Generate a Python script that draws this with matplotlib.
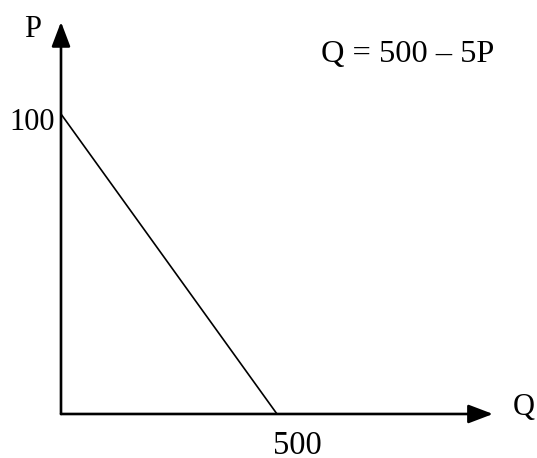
import matplotlib
matplotlib.use('Agg')
import matplotlib.pyplot as plt

plt.rcParams['font.family'] = ['Liberation Serif', 'DejaVu Serif']

# demand curve Q = 500 - 5P
q = [0, 500]
p = [100, 0]
q_axis_end = 1000
p_axis_end = 130.7

fig = plt.figure(figsize=(5.37, 4.58), dpi=100)
ax = fig.add_axes([0, 0, 1, 1])
ax.set_xlim(-141.2, 1101.9)
ax.set_ylim(-14.67, 138.0)
ax.axis('off')

# axes with arrows
arrow = dict(arrowstyle='-|>,head_length=1.0,head_width=0.38', color='black',
             lw=1.9, shrinkA=0, shrinkB=0, mutation_scale=15)
ax.annotate('', xy=(q_axis_end, 0), xytext=(0, 0), arrowprops=arrow)
ax.annotate('', xy=(0, p_axis_end), xytext=(0, 0), arrowprops=arrow)

ax.plot(q, p, color='black', lw=1.2, solid_capstyle='butt')

ax.text(-66, 125.7, 'P', fontsize=22, ha='center', va='baseline')
ax.text(-14, 94.7, '100', fontsize=22, ha='right', va='baseline')
ax.text(548, -13.4, '500', fontsize=23.5, ha='center', va='baseline')
ax.text(1072, -0.3, 'Q', fontsize=22, ha='center', va='baseline')
ax.text(602, 117.3, 'Q = 500 \u2013 5P', fontsize=23.3, ha='left', va='baseline')

fig.savefig('out.png', dpi=100)
